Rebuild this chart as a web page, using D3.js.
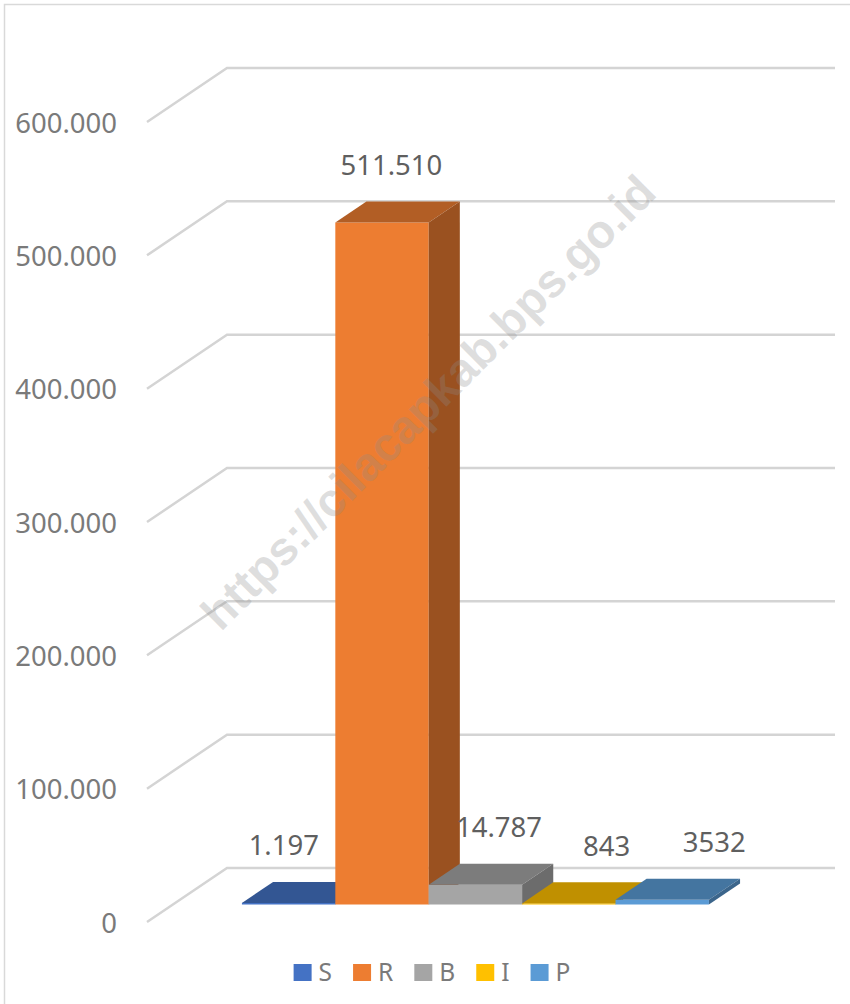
<!DOCTYPE html>
<html>
<head>
<meta charset="utf-8">
<script src="https://cdn.jsdelivr.net/npm/d3@7"></script>
<style>
  html, body { margin: 0; padding: 0; background: #fff; }
  svg { display: block; }
</style>
</head>
<body>
<svg id="chart" width="850" height="1004"></svg>
<script>
// ---- data ----
const categories = ["S", "R", "B", "I", "P"];
const values = [1197, 511510, 14787, 843, 3532];
const valueLabels = ["1.197", "511.510", "14.787", "843", "3532"];
const colors = ["#4472c4", "#ed7d31", "#a5a5a5", "#ffc000", "#5b9bd5"];
const tickValues = [0, 100000, 200000, 300000, 400000, 500000, 600000];
const tickLabels = ["0", "100.000", "200.000", "300.000", "400.000", "500.000", "600.000"];
const watermark = "https://cilacapkab.bps.go.id";

// ---- layout ----
const svg = d3.select("#chart");
const FONT = "'Noto Sans', 'Open Sans', sans-serif";

const frontLeft = 147, frontRight = 755;   // front plane of the floor
const depth = { dx: 80, dy: -54 };          // full depth vector
const f1 = 0.324, f2 = 0.713;               // bar front/back depth fractions

const y = d3.scaleLinear().domain([0, 600000]).range([922, 122]);
const x = d3.scaleBand().domain(categories).range([216, 683]).padding(0);
const xLabel = d3.scaleBand().domain(categories).range([230, 768]).padding(0);

// border
svg.append("rect").attr("x", 4.5).attr("y", 4.5).attr("width", 1000).attr("height", 1100)
  .attr("fill", "none").attr("stroke", "#d9d9d9").attr("stroke-width", 1.5);

// gridlines (diagonal side wall + back wall)
const grid = svg.append("g").attr("fill", "none").attr("stroke", "#d4d4d4").attr("stroke-width", 2.5);
tickValues.forEach(v => {
  const yy = y(v);
  grid.append("path").attr("d",
    `M${frontLeft},${yy} L${frontLeft + depth.dx},${yy + depth.dy} L${frontRight + depth.dx},${yy + depth.dy}`);
});

// y axis labels
svg.append("g").selectAll("text").data(tickValues).join("text")
  .attr("x", 117).attr("y", d => y(d))
  .attr("text-anchor", "end").attr("dominant-baseline", "central")
  .attr("font-family", FONT).attr("font-size", 27.5).attr("fill", "#7a7a7a")
  .text((d, i) => tickLabels[i]);

// bars (drawn left to right)
const ddx = (f2 - f1) * depth.dx, ddy = (f2 - f1) * depth.dy;
const bars = svg.append("g");
categories.forEach((c, i) => {
  const base = d3.rgb(colors[i]);
  const x0 = x(c) + f1 * depth.dx, x1 = x0 + x.bandwidth();
  const yb = y(0) + f1 * depth.dy, yt = y(values[i]) + f1 * depth.dy;
  const g = bars.append("g");
  g.append("rect").attr("x", x0).attr("y", yt).attr("width", x1 - x0).attr("height", Math.max(0, yb - yt))
    .attr("fill", base.formatHex());
  g.append("path").attr("d", `M${x0},${yt} L${x1},${yt} L${x1 + ddx},${yt + ddy} L${x0 + ddx},${yt + ddy} Z`)
    .attr("fill", base.darker(0.8).formatHex());
  g.append("path").attr("d", `M${x1},${yb} L${x1},${yt} L${x1 + ddx},${yt + ddy} L${x1 + ddx},${yb + ddy} Z`)
    .attr("fill", base.darker(1.2).formatHex());
});

// data labels
svg.append("g").selectAll("text").data(categories).join("text")
  .attr("x", d => xLabel(d) + xLabel.bandwidth() / 2)
  .attr("y", (d, i) => y(values[i]) + f2 * depth.dy - 37)
  .attr("text-anchor", "middle").attr("dominant-baseline", "central")
  .attr("font-family", FONT).attr("font-size", 27.5).attr("fill", "#5f5f5f")
  .text((d, i) => valueLabels[i]);

// legend
const legend = svg.append("g");
let cx = 0;
categories.forEach((c, i) => {
  const it = legend.append("g").attr("transform", `translate(${cx},0)`);
  it.append("rect").attr("x", 0).attr("y", 964).attr("width", 18).attr("height", 17).attr("fill", colors[i]);
  const t = it.append("text").attr("x", 25).attr("y", 981)
    .attr("font-family", FONT).attr("font-size", 24.5).attr("fill", "#7a7a7a").text(c);
  const w = t.node().getComputedTextLength();
  cx += 25 + w + 21;
});
const legendWidth = cx - 21;
legend.attr("transform", `translate(${432 - legendWidth / 2},0)`);

// watermark
svg.append("text")
  .attr("transform", "translate(428,402) rotate(-45)")
  .attr("text-anchor", "middle").attr("dominant-baseline", "central")
  .attr("font-family", "'Liberation Sans', Arial, sans-serif").attr("font-weight", "bold")
  .attr("font-size", 47).attr("fill", "#8c8c8c").attr("fill-opacity", 0.28)
  .text(watermark);
</script>
</body>
</html>
